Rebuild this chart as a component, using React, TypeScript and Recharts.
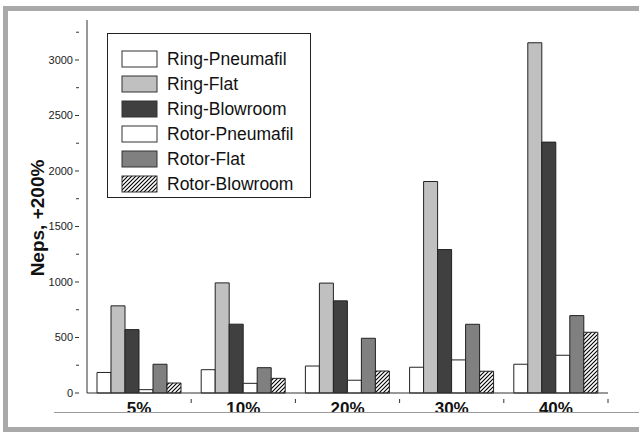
import React from 'react';
import { BarChart, Bar, XAxis, YAxis } from 'recharts';

const categories = ['5%', '10%', '20%', '30%', '40%'];
const ringPneumafil = [185, 210, 243, 232, 259];
const ringFlat = [785, 992, 990, 1905, 3155];
const ringBlowroom = [571, 620, 830, 1292, 2260];
const rotorPneumafil = [30, 87, 115, 298, 340];
const rotorFlat = [259, 228, 493, 619, 697];
const rotorBlowroom = [90, 132, 198, 196, 547];
const yTicks = [0, 250, 500, 750, 1000, 1250, 1500, 1750, 2000, 2250, 2500, 2750, 3000, 3250];

const data = categories.map((c, i) => ({
  cat: c,
  rp: ringPneumafil[i],
  rf: ringFlat[i],
  rb: ringBlowroom[i],
  op: rotorPneumafil[i],
  of: rotorFlat[i],
  ob: rotorBlowroom[i],
}));

const series = [
  { key: 'rp', name: 'Ring-Pneumafil', fill: '#ffffff' },
  { key: 'rf', name: 'Ring-Flat', fill: '#c0c0c0' },
  { key: 'rb', name: 'Ring-Blowroom', fill: '#404040' },
  { key: 'op', name: 'Rotor-Pneumafil', fill: '#ffffff' },
  { key: 'of', name: 'Rotor-Flat', fill: '#808080' },
  { key: 'ob', name: 'Rotor-Blowroom', fill: 'url(#hatch)' },
];

const FONT = '"Liberation Sans", Arial, Helvetica, sans-serif';

const YTick = (props: any) => {
  const { x, y, payload } = props;
  const major = payload.value % 500 === 0;
  return (
    <g>
      <line x1={x - (major ? 4 : 3)} x2={x} y1={y} y2={y} stroke="#333" strokeWidth={1} />
      {major && (
        <text x={x - 6} y={y} dy={4} textAnchor="end" fontSize={11} fill="#222" fontFamily={FONT}>
          {payload.value}
        </text>
      )}
    </g>
  );
};

const XTick = (props: any) => {
  const { x, y, payload } = props;
  const half = 52.1;
  return (
    <g>
      <line x1={x + half} x2={x + half} y1={y - 2} y2={y + 2} stroke="#333" strokeWidth={1} />
      <text x={x} y={y} dy={13} textAnchor="middle" fontSize={17} fontWeight="bold" fill="#111" fontFamily={FONT}>
        {payload.value}
      </text>
    </g>
  );
};

const LegendBox = () => (
  <div
    style={{
      position: 'absolute',
      left: 107,
      top: 33,
      width: 204,
      height: 165,
      border: '1px solid #222',
      boxSizing: 'border-box',
      background: '#fff',
      paddingTop: 12,
      paddingLeft: 13,
      fontFamily: FONT,
    }}
  >
    {series.map((s) => (
      <div key={s.key} style={{ display: 'flex', alignItems: 'center', height: 25 }}>
        <svg width={38} height={18} style={{ display: 'block' }}>
          <rect x={1} y={1} width={35} height={16} fill={s.fill} stroke="#333" strokeWidth={1} />
        </svg>
        <span style={{ marginLeft: 8, fontSize: 17.5, color: '#111', lineHeight: '18px' }}>{s.name}</span>
      </div>
    ))}
  </div>
);

export default function App() {
  return (
    <div style={{ position: 'absolute', left: 0, top: 0, width: 639, height: 432, background: '#fff', overflow: 'hidden' }}>
      <svg width={0} height={0} style={{ position: 'absolute' }}>
        <defs>
          <pattern id="hatch" patternUnits="userSpaceOnUse" width={4} height={4}>
            <rect width={4} height={4} fill="#fff" />
            <path d="M-1,1 l2,-2 M0,4 l4,-4 M3,5 l2,-2" stroke="#000" strokeWidth={1.1} />
          </pattern>
        </defs>
      </svg>
      <BarChart
        width={639}
        height={432}
        data={data}
        margin={{ top: 20, right: 31, bottom: 9, left: 0 }}
        barCategoryGap={10}
        barGap={0}
        style={{ position: 'absolute', left: 0, top: 0 }}
      >
        <XAxis
          dataKey="cat"
          height={30}
          tick={<XTick />}
          tickLine={false}
          axisLine={{ stroke: '#333', strokeWidth: 1 }}
          interval={0}
        />
        <YAxis
          width={87}
          domain={[0, 3360]}
          ticks={yTicks}
          tick={<YTick />}
          tickLine={false}
          axisLine={{ stroke: '#333', strokeWidth: 1 }}
          interval={0}
          label={{
            content: () => (
              <text
                x={37}
                y={218}
                transform="rotate(-90 37 218)"
                textAnchor="middle"
                dominantBaseline="central"
                fontSize={19}
                fontWeight="bold"
                fill="#111"
                fontFamily={FONT}
              >
                Neps, +200%
              </text>
            ),
          }}
        />
        {series.map((s) => (
          <Bar
            key={s.key}
            dataKey={s.key}
            name={s.name}
            fill={s.fill}
            stroke="#222"
            strokeWidth={1}
            isAnimationActive={false}
          />
        ))}
      </BarChart>
      <div style={{ position: 'absolute', left: 8, top: 412, width: 631, height: 15, background: '#fff' }} />
      <div style={{ position: 'absolute', left: 54, top: 412, width: 585, height: 1, background: '#9a9a9a' }} />
      <div style={{ position: 'absolute', left: 3, top: 6, width: 636, height: 5, background: '#a9a9a9' }} />
      <div style={{ position: 'absolute', left: 3, top: 6, width: 5, height: 426, background: '#a9a9a9' }} />
      <div style={{ position: 'absolute', left: 3, top: 427, width: 636, height: 5, background: '#a9a9a9' }} />
      <LegendBox />
    </div>
  );
}
